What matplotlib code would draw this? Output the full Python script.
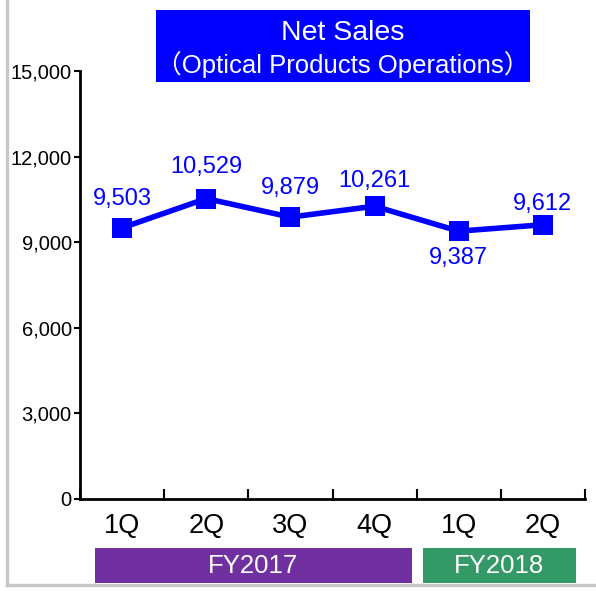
import matplotlib
matplotlib.use("Agg")
import matplotlib.pyplot as plt
from matplotlib.patches import Rectangle
from matplotlib.lines import Line2D
from matplotlib.transforms import blended_transform_factory
from matplotlib.ticker import FuncFormatter

plt.rcParams['font.family'] = ['Liberation Sans', 'Noto Sans CJK JP', 'DejaVu Sans']

# Quarterly net sales, Optical Products Operations (millions of yen)
quarters = ["1Q", "2Q", "3Q", "4Q", "1Q", "2Q"]
net_sales = [9503, 10529, 9879, 10261, 9387, 9612]
fiscal_years = ["FY2017", "FY2018"]
fy_colors = ["#7030A0", "#339966"]
y_ticks = [0, 3000, 6000, 9000, 12000, 15000]
title_lines = ["Net Sales", "\uff08Optical Products Operations\uff09"]

# vertical offset (points) of each value label from its marker
label_offsets = [21, 22.5, 21, 18.5, -19.5, 15]

W, H = 596, 591
fig = plt.figure(figsize=(W / 100, H / 100), dpi=100)

def fx(px):
    return px / W

def fy(py):
    return 1 - py / H

# light grey frame on the left and bottom
fig.add_artist(Line2D([fx(7), fx(7)], [fy(0), fy(584.5)], color="#c8c8c8", lw=2.4,
                      transform=fig.transFigure))
fig.add_artist(Line2D([fx(7), fx(596)], [fy(584.5), fy(584.5)], color="#c8c8c8", lw=2.4,
                      transform=fig.transFigure))

ax = fig.add_axes([fx(80), fy(499), fx(585) - fx(80), fy(71) - fy(499)])
x = list(range(1, len(net_sales) + 1))
ax.plot(x, net_sales, color="#0000FF", lw=4.0, marker="s", markersize=14,
        markeredgewidth=0, zorder=3, clip_on=False)

for xi, v, dy in zip(x, net_sales, label_offsets):
    ax.annotate(f"{v:,}", (xi, v), xytext=(0, dy),
                textcoords="offset points", ha="center", va="center",
                fontsize=17, color="#0000FF")

ax.set_xlim(0.5, len(net_sales) + 0.5)
ax.set_ylim(0, 15000)
ax.spines[["top", "right"]].set_visible(False)
for s in ("left", "bottom"):
    ax.spines[s].set_linewidth(2.0)
    ax.spines[s].set_color("black")

ax.set_yticks(y_ticks)
ax.yaxis.set_major_formatter(FuncFormatter(lambda v, p: f"{int(v):,}"))
ax.tick_params(axis="y", direction="out", length=4, width=1.5, pad=2,
               labelsize=14.5, colors="black")

ax.set_xticks(x)
ax.set_xticklabels(quarters)
ax.tick_params(axis="x", which="major", length=0, pad=10, labelsize=19.5)
ax.set_xticks([i + 0.5 for i in range(0, len(net_sales) + 1)], minor=True)
ax.tick_params(axis="x", which="minor", direction="in", length=7, width=1.5)

# fiscal year bands below the quarter labels
trans = blended_transform_factory(ax.transData, fig.transFigure)
band_edges = [(0.68, 4.44), (4.57, 6.39)]
for (x0, x1), name, col in zip(band_edges, fiscal_years, fy_colors):
    ax.add_patch(Rectangle((x0, fy(583)), x1 - x0, fy(548) - fy(583), transform=trans,
                           facecolor=col, edgecolor="none", clip_on=False, zorder=4))
    ax.text((x0 + x1) / 2, fy(566), name, transform=trans, ha="center",
            va="center", color="white", fontsize=18.5, clip_on=False, zorder=5)

# title box
fig.add_artist(Rectangle((fx(156), fy(82)), fx(530) - fx(156), fy(10) - fy(82),
                         transform=fig.transFigure, facecolor="#0000FF",
                         edgecolor="none"))
fig.text(fx(343), fy(33), title_lines[0], ha="center", va="center",
         color="white", fontsize=20.5)
fig.text(fx(343), fy(65), title_lines[1], ha="center", va="center",
         color="white", fontsize=18.5)

fig.savefig("out.png", dpi=100)
